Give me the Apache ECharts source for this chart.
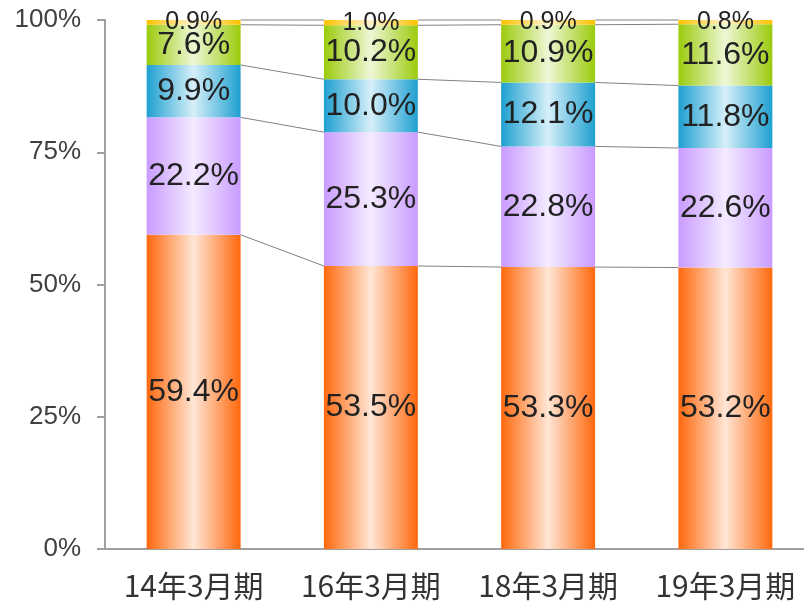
<!DOCTYPE html>
<html>
<head>
<meta charset="utf-8">
<script src="https://cdn.jsdelivr.net/npm/echarts@6/dist/echarts.min.js"></script>
<style>
  html, body { margin: 0; padding: 0; background: #fff; }
  #main { width: 804px; height: 603px; }
</style>
</head>
<body>
<div id="main"></div>
<script>
// データ
var categories = ['14年3月期', '16年3月期', '18年3月期', '19年3月期'];
var seriesA = [59.4, 53.5, 53.3, 53.2];
var seriesB = [22.2, 25.3, 22.8, 22.6];
var seriesC = [9.9, 10.0, 12.1, 11.8];
var seriesD = [7.6, 10.2, 10.9, 11.6];
var seriesE = [0.9, 1.0, 0.9, 0.8];
var yTicks = [0, 25, 50, 75, 100];

var stacks = [seriesA, seriesB, seriesC, seriesD, seriesE];
// 色 (端, 中央)
var colors = [
    ['#ff680c', '#ffe6d6'],
    ['#c99bff', '#f4ebff'],
    ['#1ea0d0', '#d6eff9'],
    ['#9bcb0c', '#eef7d6'],
    ['#ffc000', '#fff3cc']
];
var BAR_RATIO = 0.53;

function grad(c) {
    return new echarts.graphic.LinearGradient(0, 0, 1, 0, [
        { offset: 0, color: c[0] },
        { offset: 0.5, color: c[1] },
        { offset: 1, color: c[0] }
    ]);
}

// 累積値 (区分線用)
var cum = categories.map(function (_, i) {
    var s = 0, out = [];
    stacks.forEach(function (arr) { s += arr[i]; out.push(s); });
    return out;
});
var lineData = [];
for (var i = 0; i < categories.length - 1; i++) {
    for (var k = 0; k < stacks.length; k++) {
        lineData.push([i, cum[i][k], cum[i + 1][k]]);
    }
}

var barSeries = stacks.map(function (arr, idx) {
    return {
        type: 'bar',
        stack: 'total',
        barWidth: (BAR_RATIO * 100) + '%',
        data: arr,
        itemStyle: { color: grad(colors[idx]) },
        label: {
            show: true,
            position: 'inside',
            formatter: function (p) { return p.value.toFixed(1) + '%'; },
            color: '#222',
            fontFamily: 'Liberation Sans, Arial, sans-serif',
            fontSize: idx === 4 ? 25 : 32
        }
    };
});

var myChart = echarts.init(document.getElementById('main'));
myChart.setOption({
    animation: false,
    grid: { left: 105, width: 709, top: 20, bottom: 54, outerBoundsMode: 'none', containLabel: false },
    xAxis: {
        type: 'category',
        data: categories,
        axisLine: { lineStyle: { color: '#a0a0a0', width: 2 } },
        axisTick: { show: false },
        axisLabel: {
            interval: 0,
            color: '#333',
            fontSize: 30,
            margin: 22,
            fontFamily: 'Noto Sans CJK JP, sans-serif'
        }
    },
    yAxis: {
        type: 'value',
        min: yTicks[0],
        max: yTicks[yTicks.length - 1],
        interval: 25,
        axisLine: { show: true, lineStyle: { color: '#a0a0a0', width: 2 } },
        axisTick: { show: true, length: 8, lineStyle: { color: '#a0a0a0', width: 2 } },
        splitLine: { show: false },
        axisLabel: {
            formatter: '{value}%',
            color: '#404040',
            fontSize: 26,
            margin: 24,
            fontFamily: 'Liberation Sans, Arial, sans-serif'
        }
    },
    series: barSeries.concat([{
        type: 'custom',
        data: lineData,
        z: 1,
        renderItem: function (params, api) {
            var p1 = api.coord([api.value(0), api.value(1)]);
            var p2 = api.coord([api.value(0) + 1, api.value(2)]);
            var half = api.size([1, 0])[0] * BAR_RATIO / 2;
            return {
                type: 'line',
                shape: { x1: p1[0] + half, y1: p1[1], x2: p2[0] - half, y2: p2[1] },
                style: { stroke: '#808080', lineWidth: 1 }
            };
        }
    }])
});
</script>
</body>
</html>
